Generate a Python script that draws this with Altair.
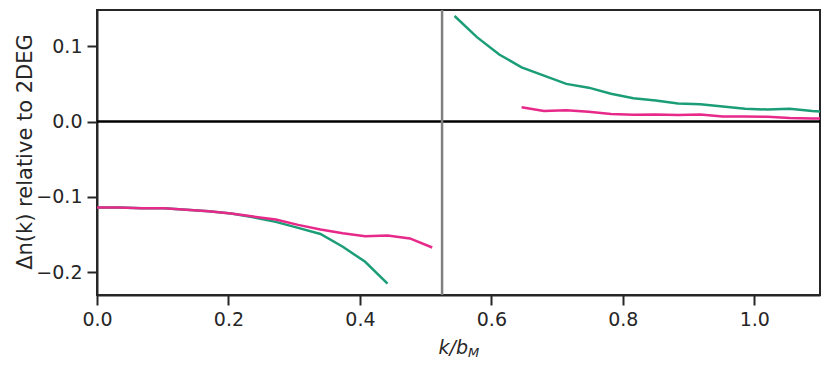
import altair as alt
import pandas as pd

# lower branch (k below the gap)
k_low_green = [0.0, 0.034, 0.068, 0.102, 0.136, 0.170, 0.204, 0.238, 0.272, 0.306, 0.340, 0.374, 0.408, 0.442]
dn_low_green = [-0.114, -0.114, -0.115, -0.115, -0.117, -0.119, -0.122, -0.127, -0.133, -0.141, -0.149, -0.166, -0.186, -0.215]
k_low_pink = [0.0, 0.034, 0.068, 0.102, 0.136, 0.170, 0.204, 0.238, 0.272, 0.306, 0.340, 0.374, 0.408, 0.442, 0.476, 0.510]
dn_low_pink = [-0.114, -0.114, -0.115, -0.115, -0.117, -0.119, -0.122, -0.126, -0.130, -0.137, -0.143, -0.148, -0.152, -0.151, -0.155, -0.167]

# upper branch (k above the gap)
k_up_green = [0.544, 0.578, 0.612, 0.646, 0.680, 0.714, 0.748, 0.782, 0.816, 0.850, 0.884, 0.918, 0.952, 0.986, 1.020, 1.054, 1.088, 1.122]
dn_up_green = [0.140, 0.112, 0.089, 0.072, 0.061, 0.050, 0.045, 0.037, 0.031, 0.028, 0.024, 0.023, 0.020, 0.017, 0.016, 0.017, 0.014, 0.012]
k_up_pink = [0.646, 0.680, 0.714, 0.748, 0.782, 0.816, 0.850, 0.884, 0.918, 0.952, 0.986, 1.020, 1.054, 1.088, 1.122]
dn_up_pink = [0.019, 0.014, 0.015, 0.013, 0.010, 0.009, 0.0095, 0.0088, 0.0095, 0.0067, 0.0066, 0.0064, 0.0049, 0.0042, 0.0036]

gap_k = 0.525
x_ticks = [0.0, 0.2, 0.4, 0.6, 0.8, 1.0]
y_ticks = [-0.2, -0.1, 0.0, 0.1]

rows = []
for seg, series, ks, vs in [
    ("low_g", "green", k_low_green, dn_low_green),
    ("low_p", "pink", k_low_pink, dn_low_pink),
    ("up_g", "green", k_up_green, dn_up_green),
    ("up_p", "pink", k_up_pink, dn_up_pink),
]:
    for i, (k, v) in enumerate(zip(ks, vs)):
        rows.append({"k": k, "dn": v, "series": series, "seg": seg, "order": i})
df = pd.DataFrame(rows)

FONT = "DejaVu Sans"
INK = "#262626"
xscale = alt.Scale(domain=[0, 1.1], nice=False, zero=False)
yscale = alt.Scale(domain=[-0.23, 0.148], nice=False, zero=False)

common = dict(grid=False, labelFont=FONT, labelFontSize=19, labelColor=INK,
              tickSize=10, tickWidth=2, tickColor=INK,
              domainColor=INK, domainWidth=2, labelFlush=False, labelOverlap=False)

xaxis = alt.Axis(values=x_ticks, format=".1f", title=None, labelPadding=5, **common)
yaxis = alt.Axis(values=y_ticks, format=".1f", title="Δn(k) relative to 2DEG", labelPadding=5,
                 titleFont=FONT, titleFontSize=21, titleFontWeight="normal", titleColor=INK,
                 titleX=-66, titleY=141.5, titleAngle=-90, titleBaseline="alphabetic",
                 titleAlign="center", **common)

lines = alt.Chart(df).mark_line(strokeWidth=2.5, clip=True).encode(
    x=alt.X("k:Q", scale=xscale, axis=xaxis),
    y=alt.Y("dn:Q", scale=yscale, axis=yaxis),
    color=alt.Color("series:N", scale=alt.Scale(domain=["green", "pink"], range=["#1b9e77", "#e7298a"]), legend=None),
    detail="seg:N",
    order="order:Q",
)

zero_line = alt.Chart(pd.DataFrame({"y": [0.0]})).mark_rule(color="black", strokeWidth=2.5).encode(
    y=alt.Y("y:Q", scale=yscale)
)
gap_line = alt.Chart(pd.DataFrame({"x": [gap_k]})).mark_rule(color="#808080", strokeWidth=2.5).encode(
    x=alt.X("x:Q", scale=xscale)
)

title_main = alt.Chart(pd.DataFrame({"t": ["k/b"]})).mark_text(
    font=FONT, fontSize=19, fontStyle="italic", align="right", baseline="alphabetic", color=INK
).encode(text="t:N", x=alt.value(371), y=alt.value(344))
title_sub = alt.Chart(pd.DataFrame({"t": ["M"]})).mark_text(
    font=FONT, fontSize=13, fontStyle="italic", align="left", baseline="alphabetic", color=INK
).encode(text="t:N", x=alt.value(371), y=alt.value(347))

chart = alt.layer(lines, zero_line, gap_line, title_main, title_sub).properties(
    width=723, height=285,
    autosize=alt.AutoSizeParams(type="none"),
    padding={"left": 89, "top": 2, "right": 2, "bottom": 64},
).configure_view(stroke=INK, strokeWidth=2)

chart.save("out.html", embed_options={"renderer": "svg", "actions": False})
